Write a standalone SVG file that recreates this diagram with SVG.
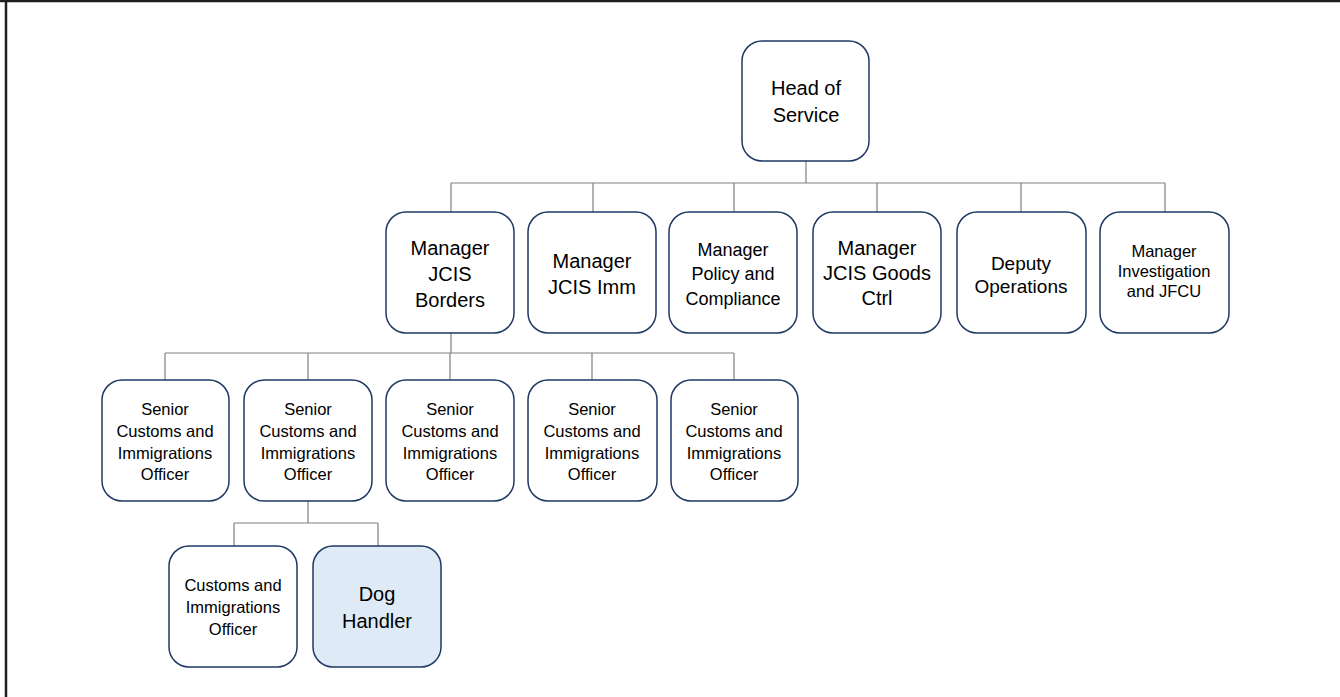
<svg xmlns="http://www.w3.org/2000/svg" width="1340" height="697" viewBox="0 0 1340 697">
<style>
.box{fill:#ffffff;stroke:#1f3864;stroke-width:1.5}
.hl{fill:#deebf7}
.c{stroke:#808080;stroke-width:1.2;fill:none}
text{font-family:"Liberation Sans",Arial,sans-serif;fill:#000;text-anchor:middle}
.f20{font-size:20px}.f18{font-size:18px}.f19{font-size:19px}.f16{font-size:16.5px}
</style>
<rect width="1340" height="697" fill="#ffffff"/>
<g id="frame"><line x1="0" y1="1" x2="1340" y2="1" stroke="#231f20" stroke-width="2.5"/><line x1="6" y1="0" x2="6" y2="697" stroke="#231f20" stroke-width="2.5"/></g>
<g id="connectors">
<path class="c" d="M806 161V183M451 183H1165M451 183V212M593 183V212M734 183V212M877 183V212M1021 183V212M1165 183V212"/>
<path class="c" d="M451 333V353M165 353H734M165 353V380M308 353V380M450 353V380M592 353V380M734 353V380"/>
<path class="c" d="M308 501V523M234 523H378M234 523V546M378 523V546"/>
</g>
<g id="head"><rect class="box" x="742" y="41" width="127" height="120" rx="20"/><text class="f20" x="806" y="95">Head of</text><text class="f20" x="806" y="122">Service</text></g>
<g id="m-borders"><rect class="box" x="386" y="212" width="128" height="121" rx="20"/><text class="f20" x="450" y="255">Manager</text><text class="f20" x="450" y="281">JCIS</text><text class="f20" x="450" y="307">Borders</text></g>
<g id="m-imm"><rect class="box" x="528" y="212" width="128" height="121" rx="20"/><text class="f20" x="592" y="268">Manager</text><text class="f20" x="592" y="294">JCIS Imm</text></g>
<g id="m-policy"><rect class="box" x="669" y="212" width="128" height="121" rx="20"/><text class="f18" x="733" y="256">Manager</text><text class="f18" x="733" y="280">Policy and</text><text class="f18" x="733" y="305">Compliance</text></g>
<g id="m-goods"><rect class="box" x="813" y="212" width="128" height="121" rx="20"/><text class="f20" x="877" y="255">Manager</text><text class="f20" x="877" y="280">JCIS Goods</text><text class="f20" x="877" y="305">Ctrl</text></g>
<g id="deputy"><rect class="box" x="957" y="212" width="129" height="121" rx="20"/><text class="f19" x="1021" y="270">Deputy</text><text class="f19" x="1021" y="293">Operations</text></g>
<g id="m-invest"><rect class="box" x="1100" y="212" width="129" height="121" rx="20"/><text class="f16" x="1164" y="257">Manager</text><text class="f16" x="1164" y="277">Investigation</text><text class="f16" x="1164" y="297">and JFCU</text></g>
<g id="s1"><rect class="box" x="102" y="380" width="127" height="121" rx="20"/><text class="f16" x="165" y="415">Senior</text><text class="f16" x="165" y="437">Customs and</text><text class="f16" x="165" y="459">Immigrations</text><text class="f16" x="165" y="480">Officer</text></g>
<g id="s2"><rect class="box" x="244" y="380" width="128" height="121" rx="20"/><text class="f16" x="308" y="415">Senior</text><text class="f16" x="308" y="437">Customs and</text><text class="f16" x="308" y="459">Immigrations</text><text class="f16" x="308" y="480">Officer</text></g>
<g id="s3"><rect class="box" x="386" y="380" width="128" height="121" rx="20"/><text class="f16" x="450" y="415">Senior</text><text class="f16" x="450" y="437">Customs and</text><text class="f16" x="450" y="459">Immigrations</text><text class="f16" x="450" y="480">Officer</text></g>
<g id="s4"><rect class="box" x="528" y="380" width="129" height="121" rx="20"/><text class="f16" x="592" y="415">Senior</text><text class="f16" x="592" y="437">Customs and</text><text class="f16" x="592" y="459">Immigrations</text><text class="f16" x="592" y="480">Officer</text></g>
<g id="s5"><rect class="box" x="671" y="380" width="127" height="121" rx="20"/><text class="f16" x="734" y="415">Senior</text><text class="f16" x="734" y="437">Customs and</text><text class="f16" x="734" y="459">Immigrations</text><text class="f16" x="734" y="480">Officer</text></g>
<g id="officer"><rect class="box" x="169" y="546" width="128" height="121" rx="20"/><text class="f16" x="233" y="591">Customs and</text><text class="f16" x="233" y="613">Immigrations</text><text class="f16" x="233" y="635">Officer</text></g>
<g id="dog"><rect class="box hl" x="313" y="546" width="128" height="121" rx="20"/><text class="f20" x="377" y="601">Dog</text><text class="f20" x="377" y="628">Handler</text></g>
</svg>
